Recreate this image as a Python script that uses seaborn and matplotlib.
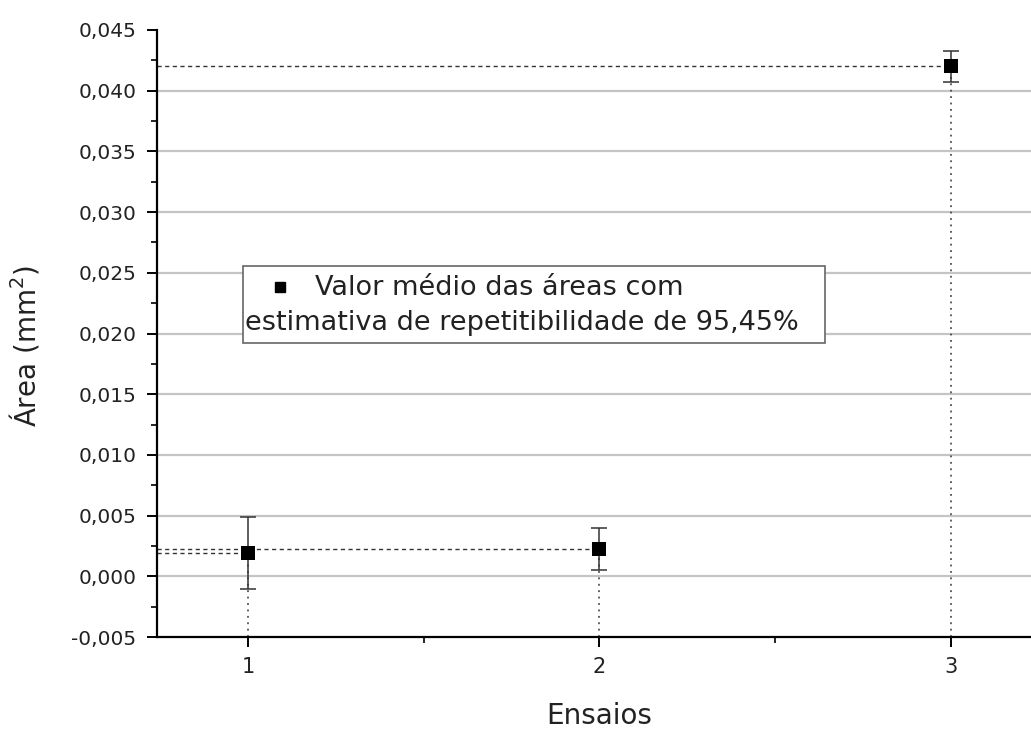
import numpy as np
import pandas as pd
import matplotlib
matplotlib.use("Agg")
import matplotlib.pyplot as plt
from matplotlib.patches import Rectangle
from matplotlib.ticker import MultipleLocator, FuncFormatter
import seaborn as sns

# Mean area per test run and its repeatability (95.45 %) half-width
ensaios = [1, 2, 3]
area_media = [0.00192, 0.00225, 0.0420]
incerteza = [0.00298, 0.00173, 0.00130]
y_ticks = [-0.005, 0.000, 0.005, 0.010, 0.015, 0.020, 0.025, 0.030, 0.035, 0.040, 0.045]
legenda = ["Valor médio das áreas com", "estimativa de repetitibilidade de 95,45%"]

df = pd.DataFrame({"Ensaios": ensaios, "Area": area_media, "U": incerteza})

sns.set_theme(style="white")
plt.rcParams["font.family"] = ["DejaVu Sans"]
TXT = "#222222"

fig = plt.figure(figsize=(10.31, 7.29), dpi=100)
ax = fig.add_axes([0.152, 0.126, 0.848, 0.833])

x0, x1 = 0.74, 3.228
y0, y1 = -0.005, 0.045
ax.set_xlim(x0, x1)
ax.set_ylim(y0, y1)

# horizontal grid at the major y ticks
for v in y_ticks[1:-1]:
    ax.axhline(v, color="#c4c4c4", lw=1.6, zorder=0)

# drop lines: dashed to the y axis, dotted down to the x axis
for x, y in zip(df["Ensaios"], df["Area"]):
    ax.plot([x0, x], [y, y], color="#333333", lw=1.0, ls=(0, (3, 2.5)), zorder=1)
    ax.plot([x, x], [y0, y], color="#333333", lw=1.1, ls=(0, (1.2, 3)), zorder=1)

ax.errorbar(df["Ensaios"], df["Area"], yerr=df["U"], fmt="none",
            ecolor="#333333", elinewidth=1.1, capsize=5.5, capthick=1.1, zorder=2)
sns.scatterplot(data=df, x="Ensaios", y="Area", marker="s", s=95, color="black",
                edgecolor="black", linewidth=0, ax=ax, zorder=3, legend=False)

# axes styling
for side in ("top", "right"):
    ax.spines[side].set_visible(False)
for side in ("left", "bottom"):
    ax.spines[side].set_color("black")
    ax.spines[side].set_linewidth(1.6)

ax.set_xticks(ensaios)
ax.xaxis.set_minor_locator(MultipleLocator(0.5))
ax.set_yticks(y_ticks)
ax.yaxis.set_minor_locator(MultipleLocator(0.0025))
ax.yaxis.set_major_formatter(FuncFormatter(lambda v, p: f"{v:.3f}".replace(".", ",")))
ax.tick_params(axis="both", which="major", direction="out", length=7.5, width=1.4,
               color="black", labelsize=14.5, labelcolor=TXT, left=True, bottom=True,
               pad=7)
ax.tick_params(axis="x", which="major", labelsize=15)
ax.tick_params(axis="both", which="minor", direction="out", length=4.5, width=1.2,
               color="black", left=True, bottom=True)

ax.set_xlabel("Ensaios", fontsize=20, color=TXT)
ax.set_ylabel("Área (mm$^2$)", fontsize=20, color=TXT)
ax.xaxis.set_label_coords(0.506, -0.107)
ax.yaxis.set_label_coords(-0.132, 0.48)

# legend box
ax.add_patch(Rectangle((0.0984, 0.484), 0.6656, 0.127, transform=ax.transAxes,
                       facecolor="white", edgecolor="#666666", lw=1.2, zorder=5))
ax.plot([0.1407], [0.577], marker="s", ms=7, color="black", ls="none",
        transform=ax.transAxes, zorder=6, clip_on=False)
ax.text(0.181, 0.563, legenda[0], transform=ax.transAxes, fontsize=19.5,
        color=TXT, ha="left", va="baseline", zorder=6)
ax.text(0.1007, 0.506, legenda[1], transform=ax.transAxes, fontsize=19.5,
        color=TXT, ha="left", va="baseline", zorder=6)

fig.savefig("out.png", dpi=100)
